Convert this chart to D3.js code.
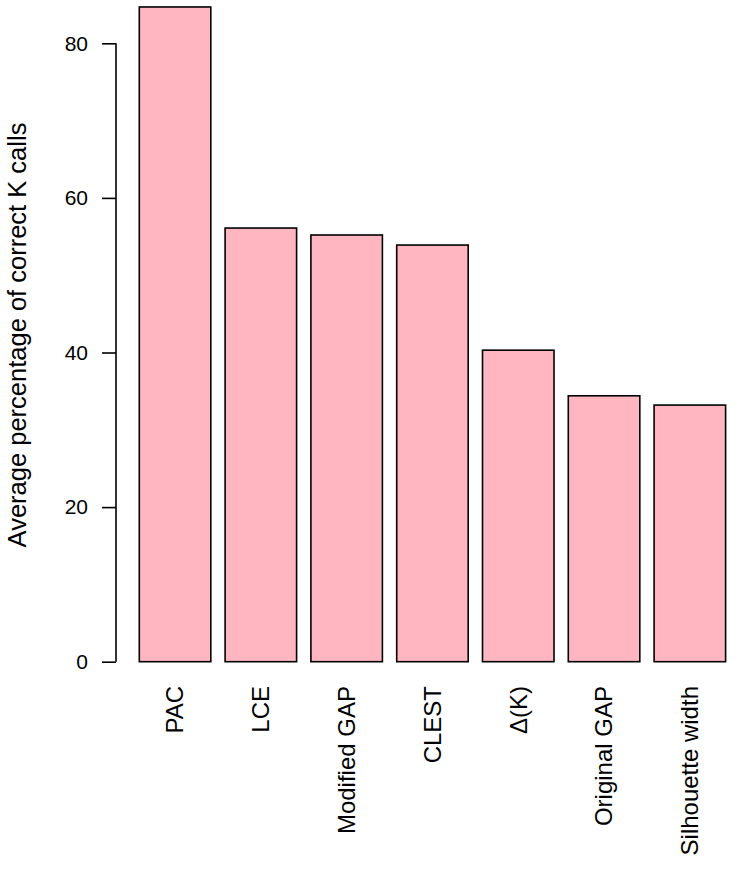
<!DOCTYPE html>
<html>
<head>
<meta charset="utf-8">
<script src="https://cdn.jsdelivr.net/npm/d3@7.9.0/dist/d3.min.js"></script>
<style>
  body { margin: 0; background: #fff; }
  svg { display: block; font-family: "Liberation Sans", Arial, Helvetica, sans-serif; }
</style>
</head>
<body>
<svg id="chart" width="742" height="875"></svg>
<script>
const methods = ['PAC', 'LCE', 'Modified GAP', 'CLEST', 'Δ(K)', 'Original GAP', 'Silhouette width'];
const percentCorrect = [84.7, 56.1, 55.2, 53.9, 40.3, 34.4, 33.2];
const yTicks = [0, 20, 40, 60, 80];

const svg = d3.select('#chart');

let x = d3.scaleBand()
  .domain(methods)
  .range([132.15, 732.75])
  .paddingInner(1 / 6)
  .paddingOuter(1 / 12);

let y = d3.scaleLinear().domain([0, 80]).range([661.7, 43.3]);

// bars
svg.append('g')
  .selectAll('rect')
  .data(methods)
  .join('rect')
  .attr('x', (d) => x(d))
  .attr('y', (d, i) => y(percentCorrect[i]))
  .attr('width', x.bandwidth())
  .attr('height', (d, i) => y(0) - y(percentCorrect[i]))
  .attr('fill', '#ffb6c1')
  .attr('stroke', '#000')
  .attr('stroke-width', 1.6);

// y axis
let yAxis = svg.append('g')
  .attr('transform', 'translate(116,0)')
  .call(d3.axisLeft(y).tickValues(yTicks).tickSize(14).tickPadding(14));
yAxis.select('.domain').attr('d', `M0,${y(0)}V${y(80)}`).attr('stroke-width', 1.6);
yAxis.selectAll('.tick line').attr('stroke-width', 1.6);
yAxis.selectAll('.tick text')
  .attr('font-size', 21)
  .attr('fill', '#000')
  .attr('font-family', null);
yAxis.attr('font-family', null).attr('font-size', 21);

// category labels, rotated
svg.append('g')
  .selectAll('text')
  .data(methods)
  .join('text')
  .attr('transform', (d) => `translate(${x(d) + x.bandwidth() / 2},${686}) rotate(-90)`)
  .attr('text-anchor', 'end')
  .attr('dy', '0.35em')
  .attr('font-size', 24)
  .text((d) => d);

// y title
svg.append('text')
  .attr('transform', 'translate(17,335) rotate(-90)')
  .attr('text-anchor', 'middle')
  .attr('dy', '0.35em')
  .attr('font-size', 25.5)
  .text('Average percentage of correct K calls');
</script>
</body>
</html>
